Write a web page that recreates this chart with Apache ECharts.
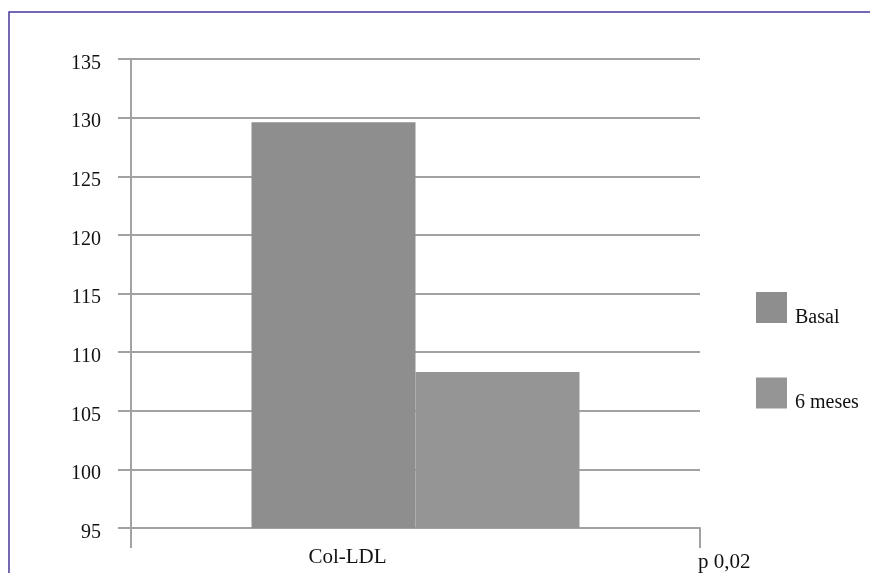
<!DOCTYPE html>
<html>
<head>
<meta charset="utf-8">
<script src="https://cdn.jsdelivr.net/npm/echarts@6/dist/echarts.min.js"></script>
<style>
  html, body { margin: 0; padding: 0; background: #fff; }
  #chart { width: 870px; height: 573px; }
</style>
</head>
<body>
<div id="chart"></div>
<script>
// LDL cholesterol at baseline and after six months
const categories = ['Col-LDL'];
const seriesNames = ['Basal', '6 meses'];
const basalValues = [129.6];
const sixMonthValues = [108.3];
const yMin = 95;
const yMax = 135;
const yStep = 5;
const pValueNote = 'p 0,02';

const serif = '"Liberation Serif", "DejaVu Serif", serif';
const lineGray = '#a2a2a2';

const chart = echarts.init(document.getElementById('chart'), null, { renderer: 'canvas' });

chart.setOption({
  animation: false,
  backgroundColor: '#ffffff',
  textStyle: { fontFamily: serif },
  grid: { left: 131, right: 170, top: 59, bottom: 45, containLabel: false },
  legend: {
    orient: 'vertical',
    left: 756,
    top: 292,
    padding: 0,
    itemWidth: 31,
    itemHeight: 31,
    itemGap: 50,
    icon: 'rect',
    data: seriesNames,
    formatter: function (name) { return '{t|' + name + '}'; },
    textStyle: {
      fontFamily: serif, fontSize: 20, color: '#111',
      rich: { t: { fontFamily: serif, fontSize: 20, color: '#111', padding: [20, 0, 0, 3] } }
    }
  },
  xAxis: {
    type: 'category',
    data: categories,
    boundaryGap: true,
    axisLine: { show: true, lineStyle: { color: lineGray, width: 2 } },
    axisTick: { show: true, length: 20, lineStyle: { color: lineGray, width: 2 } },
    axisLabel: { fontFamily: serif, fontSize: 21, color: '#111', margin: 19, padding: [0, 136, 0, 0] }
  },
  yAxis: {
    type: 'value',
    min: yMin,
    max: yMax,
    interval: yStep,
    axisLine: { show: true, lineStyle: { color: lineGray, width: 2 } },
    axisTick: { show: true, length: 13, lineStyle: { color: lineGray, width: 2 } },
    axisLabel: {
      fontFamily: serif, fontSize: 20, color: '#111', margin: 30,
      formatter: function (v) { return '{v|' + v + '}'; },
      rich: { v: { fontFamily: serif, fontSize: 20, color: '#111', padding: [9, 0, 0, 0] } }
    },
    splitLine: { show: true, lineStyle: { color: lineGray, width: 2 } }
  },
  series: [
    {
      name: seriesNames[0],
      type: 'bar',
      data: basalValues,
      barWidth: 164,
      barGap: '0%',
      itemStyle: { color: '#8e8e8e' }
    },
    {
      name: seriesNames[1],
      type: 'bar',
      data: sixMonthValues,
      barWidth: 164,
      barGap: '0%',
      itemStyle: { color: '#959595' }
    }
  ],
  graphic: [
    {
      type: 'rect',
      shape: { x: 9, y: 12, width: 1000, height: 1000 },
      style: { fill: 'none', stroke: '#46399a', lineWidth: 1.5 },
      silent: true,
      z: 100
    },
    {
      type: 'text',
      left: 698,
      top: 552,
      style: { text: pValueNote, font: '21px ' + serif, fill: '#111' },
      silent: true
    }
  ]
});
</script>
</body>
</html>
